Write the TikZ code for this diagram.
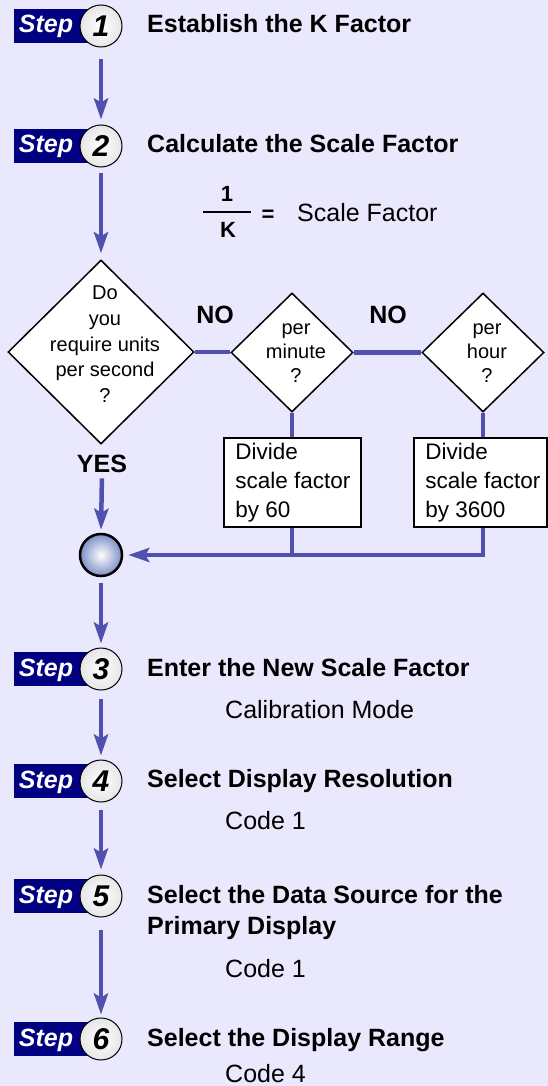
\documentclass[tikz,border=0pt]{standalone}
\usepackage{fontspec}
\setmainfont{Liberation Sans}
\usetikzlibrary{shapes.geometric,arrows.meta,backgrounds}
\definecolor{bgcol}{HTML}{EAE8FC}
\definecolor{flowcol}{HTML}{5050B0}
\definecolor{navycol}{HTML}{000080}
\definecolor{ballcol}{HTML}{7D8FC6}
\newcommand\myfs[2]{\fontsize{#1pt}{#2pt}\selectfont}
\newcommand\stepmark[2]{%
  \node[stepbg] (sb#1) at (51,#2) {};
  \node[steplabel] (sl#1) at (46,{#2+7}) {Step};
  \node[stepcircle] (s#1) at (101,#2) {#1};
}
\begin{document}
\begin{tikzpicture}[x=1pt,y=-1pt,
  flowline/.style={draw=flowcol,line width=4.5pt},
  flowarrow/.style={flowline,-{Stealth[length=21pt,width=14pt,inset=4pt]}},
  stepbg/.style={fill=navycol,minimum width=74pt,minimum height=34pt,inner sep=0},
  steplabel/.style={text=white,font=\myfs{25}{30}\bfseries\itshape,inner sep=0,anchor=base},
  stepcircle/.style={circle,draw=black,line width=1pt,shade,inner color=white,outer color=black!10,minimum size=42pt,inner sep=0,font=\myfs{30}{30}\bfseries\itshape},
  title/.style={anchor=base west,inner sep=0,font=\myfs{25}{31}\bfseries,align=left},
  subtext/.style={anchor=base west,inner sep=0,font=\myfs{25}{30}},
  decision/.style={diamond,draw=black,line width=1.5pt,fill=white,inner sep=0},
  dtext/.style={inner sep=0,align=center,font=\myfs{20}{25.7}},
  divbox/.style={draw=black,line width=1.5pt,fill=white,inner sep=0},
  btext/.style={inner sep=0,align=left,anchor=west,font=\myfs{22.5}{29}},
  answer/.style={inner sep=0,anchor=base,font=\myfs{25}{30}\bfseries},
  fracpart/.style={inner sep=0,anchor=base,font=\myfs{22}{26}\bfseries},
]
\begin{scope}[on background layer]
  \fill[bgcol] (0,0) rectangle (548,1086);
\end{scope}
\useasboundingbox (0,0) rectangle (548,1086);

% steps
\stepmark{1}{26}
\stepmark{2}{146}
\stepmark{3}{669}
\stepmark{4}{781}
\stepmark{5}{896}
\stepmark{6}{1039}

% titles
\node[title] (t1) at (147,33) {Establish the K Factor};
\node[title] (t2) at (147,153) {Calculate the Scale Factor};
\node[title] (t3) at (147,676) {Enter the New Scale Factor};
\node[title] (t4) at (147,787) {Select Display Resolution};
\node[title] (t5) at (147,934) {Select the Data Source for the\\Primary Display};
\node[title] (t6) at (147,1046) {Select the Display Range};

% sub texts
\node[subtext] (c3) at (225,718) {Calibration Mode};
\node[subtext] (c4) at (225,829) {Code 1};
\node[subtext] (c5) at (225,977) {Code 1};
\node[subtext] (c6) at (225,1082) {Code 4};

% fraction
\node[fracpart] (fone) at (227,201) {1};
\node[fracpart] (fk) at (228,237) {K};
\draw[line width=2.3pt] (203,212) -- (251,212);
\node[fracpart] (feq) at (268,222) {=};
\node[subtext] (fsf) at (297,222) {Scale Factor};

% decisions
\node[decision,minimum width=186pt,minimum height=184pt] (d1) at (101,352) {};
\node[dtext] (q1) at (105,344.4) {Do\\you\\require units\\per second\\?};
\node[decision,minimum width=122pt,minimum height=119pt] (d2) at (292,352.5) {};
\node[dtext,font=\myfs{20}{24}] (q2) at (296,353) {per\\minute\\?};
\node[decision,minimum width=122pt,minimum height=119pt] (d3) at (483,352.5) {};
\node[dtext,font=\myfs{20}{24}] (q3) at (487,353) {per\\hour\\?};

% boxes
\node[divbox,minimum width=137pt,minimum height=89pt] (b1) at (292.5,482.5) {};
\node[btext] (bt1) at ([xshift=12pt]b1.west) {Divide\\scale factor\\by 60};
\node[divbox,minimum width=133pt,minimum height=89pt] (b2) at (480.5,482.5) {};
\node[btext] (bt2) at ([xshift=12pt]b2.west) {Divide\\scale factor\\by 3600};

% labels
\node[answer] (no1) at (215,323) {NO};
\node[answer] (no2) at (388,323) {NO};
\node[answer] (yes) at (102,472) {YES};

% merge ball
\node[circle,draw=black,line width=2.5pt,shade,inner color=white,outer color=ballcol,minimum size=42pt,inner sep=0] (m) at (101,555) {};

% connectors
\begin{scope}[on background layer]
  \draw[flowline] (d1.east) -- (d1.east -| d2.west);
  \draw[flowline] (d2.east) -- (d2.east -| d3.west);
  \draw[flowline] (d2.south) -- (b1.north -| d2.south);
  \draw[flowline] (d3.south) -- (b2.north -| d3.south);
  \draw[flowline] (b1.south -| d2.south) -- (d2.south |- m.east);
  \draw[flowarrow,shorten >=5pt] (b2.south -| d3.south) -- (d3.south |- m.east) -- (m.east);
  \draw[flowarrow,shorten <=6pt,shorten >=3pt] (yes.south) -- (m.north);
  \draw[flowarrow,shorten <=12pt,shorten >=5pt] (s1.south) -- (s2.north);
  \draw[flowarrow,shorten <=6pt,shorten >=6pt] (s2.south) -- (d1.north);
  \draw[flowarrow,shorten <=6pt,shorten >=4pt] (m.south) -- (s3.north);
  \draw[flowarrow,shorten <=8pt,shorten >=4pt] (s3.south) -- (s4.north);
  \draw[flowarrow,shorten <=7pt,shorten >=5pt] (s4.south) -- (s5.north);
  \draw[flowarrow,shorten <=12pt,shorten >=3pt] (s5.south) -- (s6.north);
\end{scope}
\end{tikzpicture}
\end{document}
